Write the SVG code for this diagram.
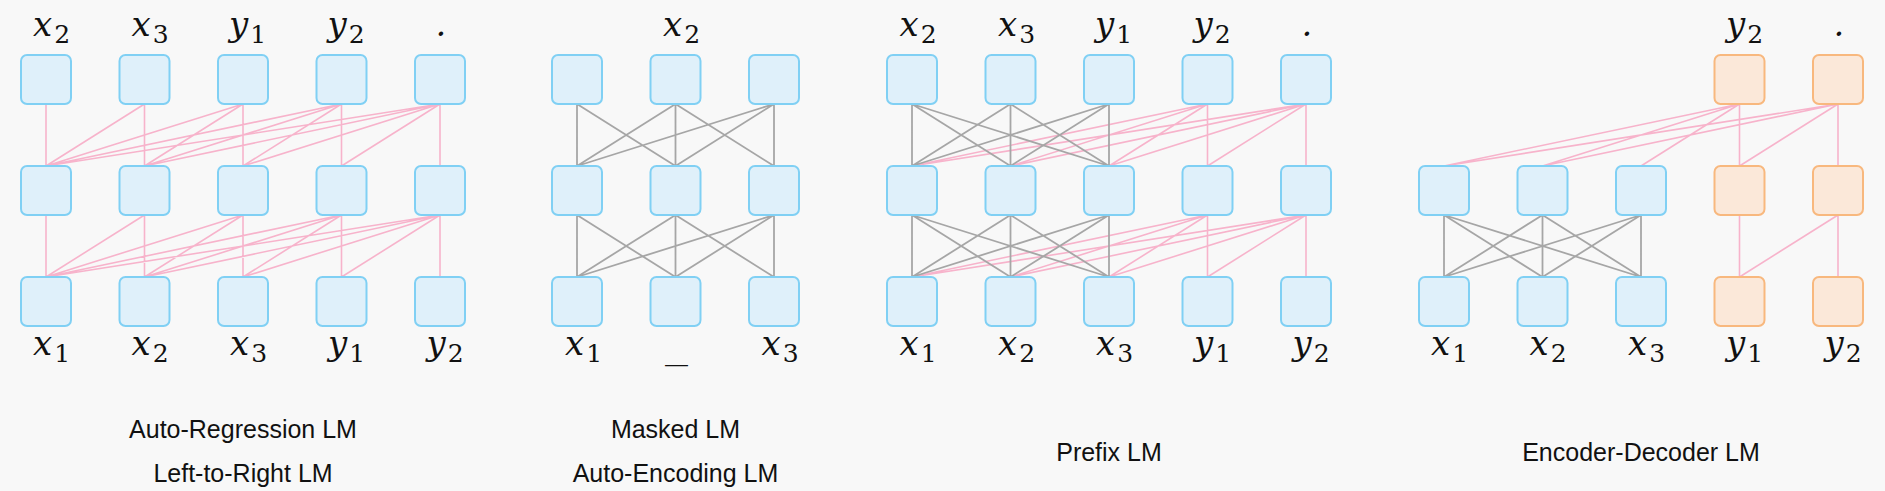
<svg xmlns="http://www.w3.org/2000/svg" width="1885" height="491" viewBox="0 0 1885 491">
<style>
.bg{fill:#f8f8f8}
.b{fill:#dff0fa;stroke:#80d0f4;stroke-width:2}
.o{fill:#fbe8d9;stroke:#f8b87e;stroke-width:2}
.pk{fill:none;stroke:#f7b3cb;stroke-width:1.6}
.gr{fill:none;stroke:#a6a6a6;stroke-width:1.8}
.m{font-family:'DejaVu Serif','Liberation Serif',serif;font-style:italic;font-size:34px;fill:#111}
.s{font-style:normal;font-size:25px}
.cap{font-family:'Liberation Sans',Arial,sans-serif;font-size:25px;fill:#111;text-anchor:middle}
</style>
<rect class="bg" x="0" y="0" width="1885" height="491"/>

<g id="connectors">
  <g id="c-arlm">
    <path class="pk" d="M46 104V166 M144.5 104L46 166 M144.5 104V166 M243 104L46 166 M243 104L144.5 166 M243 104V166 M341.5 104L46 166 M341.5 104L144.5 166 M341.5 104L243 166 M341.5 104V166 M440 104L46 166 M440 104L144.5 166 M440 104L243 166 M440 104L341.5 166 M440 104V166"/>
    <path class="pk" d="M46 215V277 M144.5 215L46 277 M144.5 215V277 M243 215L46 277 M243 215L144.5 277 M243 215V277 M341.5 215L46 277 M341.5 215L144.5 277 M341.5 215L243 277 M341.5 215V277 M440 215L46 277 M440 215L144.5 277 M440 215L243 277 M440 215L341.5 277 M440 215V277"/>
  </g>
  <g id="c-mlm">
    <path class="gr" d="M577 104V166 M577 104L675.5 166 M675.5 104L577 166 M675.5 104V166 M675.5 104L774 166 M774 104L577 166 M774 104L675.5 166 M774 104V166"/>
    <path class="gr" d="M577 215V277 M577 215L675.5 277 M675.5 215L577 277 M675.5 215V277 M675.5 215L774 277 M774 215L577 277 M774 215L675.5 277 M774 215V277"/>
  </g>
  <g id="c-prefix">
    <path class="pk" d="M1207.5 104L912 166 M1207.5 104L1010.5 166 M1207.5 104L1109 166 M1207.5 104V166 M1306 104L912 166 M1306 104L1010.5 166 M1306 104L1109 166 M1306 104L1207.5 166 M1306 104V166"/>
    <path class="pk" d="M1207.5 215L912 277 M1207.5 215L1010.5 277 M1207.5 215L1109 277 M1207.5 215V277 M1306 215L912 277 M1306 215L1010.5 277 M1306 215L1109 277 M1306 215L1207.5 277 M1306 215V277"/>
    <path class="gr" d="M912 104V166 M912 104L1010.5 166 M912 104L1109 166 M1010.5 104L912 166 M1010.5 104V166 M1010.5 104L1109 166 M1109 104L912 166 M1109 104L1010.5 166 M1109 104V166"/>
    <path class="gr" d="M912 215V277 M912 215L1010.5 277 M912 215L1109 277 M1010.5 215L912 277 M1010.5 215V277 M1010.5 215L1109 277 M1109 215L912 277 M1109 215L1010.5 277 M1109 215V277"/>
  </g>
  <g id="c-encdec">
    <path class="pk" d="M1739.5 104L1444 166 M1739.5 104L1542.5 166 M1739.5 104L1641 166 M1739.5 104V166 M1838 104L1444 166 M1838 104L1542.5 166 M1838 104L1739.5 166 M1838 104V166"/>
    <path class="gr" d="M1444 215V277 M1444 215L1542.5 277 M1444 215L1641 277 M1542.5 215L1444 277 M1542.5 215V277 M1542.5 215L1641 277 M1641 215L1444 277 M1641 215L1542.5 277 M1641 215V277"/>
    <path class="pk" d="M1739.5 215V277 M1838 215L1739.5 277 M1838 215V277"/>
  </g>
</g>

<g id="arlm">
  <g id="ar-t1"><rect class="b" x="21" y="55" width="50" height="49" rx="6"/></g>
  <g id="ar-t2"><rect class="b" x="119.5" y="55" width="50" height="49" rx="6"/></g>
  <g id="ar-t3"><rect class="b" x="218" y="55" width="50" height="49" rx="6"/></g>
  <g id="ar-t4"><rect class="b" x="316.5" y="55" width="50" height="49" rx="6"/></g>
  <g id="ar-t5"><rect class="b" x="415" y="55" width="50" height="49" rx="6"/></g>
  <g id="ar-m1"><rect class="b" x="21" y="166" width="50" height="49" rx="6"/></g>
  <g id="ar-m2"><rect class="b" x="119.5" y="166" width="50" height="49" rx="6"/></g>
  <g id="ar-m3"><rect class="b" x="218" y="166" width="50" height="49" rx="6"/></g>
  <g id="ar-m4"><rect class="b" x="316.5" y="166" width="50" height="49" rx="6"/></g>
  <g id="ar-m5"><rect class="b" x="415" y="166" width="50" height="49" rx="6"/></g>
  <g id="ar-b1"><rect class="b" x="21" y="277" width="50" height="49" rx="6"/></g>
  <g id="ar-b2"><rect class="b" x="119.5" y="277" width="50" height="49" rx="6"/></g>
  <g id="ar-b3"><rect class="b" x="218" y="277" width="50" height="49" rx="6"/></g>
  <g id="ar-b4"><rect class="b" x="316.5" y="277" width="50" height="49" rx="6"/></g>
  <g id="ar-b5"><rect class="b" x="415" y="277" width="50" height="49" rx="6"/></g>
  <text class="m" x="33" y="36">x<tspan class="s" dx="2" dy="6.5">2</tspan></text>
  <text class="m" x="131.5" y="36">x<tspan class="s" dx="2" dy="6.5">3</tspan></text>
  <text class="m" x="229" y="36">y<tspan class="s" dx="2" dy="6.5">1</tspan></text>
  <text class="m" x="327.5" y="36">y<tspan class="s" dx="2" dy="6.5">2</tspan></text>
  <text class="m" x="441" y="36" text-anchor="middle">.</text>
  <text class="m" x="33" y="354.5">x<tspan class="s" dx="2" dy="7.5">1</tspan></text>
  <text class="m" x="131.5" y="354.5">x<tspan class="s" dx="2" dy="7.5">2</tspan></text>
  <text class="m" x="230" y="354.5">x<tspan class="s" dx="2" dy="7.5">3</tspan></text>
  <text class="m" x="328" y="354.5">y<tspan class="s" dx="2" dy="7.5">1</tspan></text>
  <text class="m" x="426.5" y="354.5">y<tspan class="s" dx="2" dy="7.5">2</tspan></text>
  <text class="cap" x="243" y="438">Auto-Regression LM</text>
  <text class="cap" x="243" y="482">Left-to-Right LM</text>
</g>

<g id="mlm">
  <g id="ml-t1"><rect class="b" x="552" y="55" width="50" height="49" rx="6"/></g>
  <g id="ml-t2"><rect class="b" x="650.5" y="55" width="50" height="49" rx="6"/></g>
  <g id="ml-t3"><rect class="b" x="749" y="55" width="50" height="49" rx="6"/></g>
  <g id="ml-m1"><rect class="b" x="552" y="166" width="50" height="49" rx="6"/></g>
  <g id="ml-m2"><rect class="b" x="650.5" y="166" width="50" height="49" rx="6"/></g>
  <g id="ml-m3"><rect class="b" x="749" y="166" width="50" height="49" rx="6"/></g>
  <g id="ml-b1"><rect class="b" x="552" y="277" width="50" height="49" rx="6"/></g>
  <g id="ml-b2"><rect class="b" x="650.5" y="277" width="50" height="49" rx="6"/></g>
  <g id="ml-b3"><rect class="b" x="749" y="277" width="50" height="49" rx="6"/></g>
  <text class="m" x="663" y="36">x<tspan class="s" dx="2" dy="6.5">2</tspan></text>
  <text class="m" x="565" y="354.5">x<tspan class="s" dx="2" dy="7.5">1</tspan></text>
  <text class="m" x="665" y="358" textLength="23" lengthAdjust="spacingAndGlyphs">_</text>
  <text class="m" x="761.5" y="354.5">x<tspan class="s" dx="2" dy="7.5">3</tspan></text>
  <text class="cap" x="675.5" y="438">Masked LM</text>
  <text class="cap" x="675.5" y="482">Auto-Encoding LM</text>
</g>

<g id="prefixlm">
  <g id="pf-t1"><rect class="b" x="887" y="55" width="50" height="49" rx="6"/></g>
  <g id="pf-t2"><rect class="b" x="985.5" y="55" width="50" height="49" rx="6"/></g>
  <g id="pf-t3"><rect class="b" x="1084" y="55" width="50" height="49" rx="6"/></g>
  <g id="pf-t4"><rect class="b" x="1182.5" y="55" width="50" height="49" rx="6"/></g>
  <g id="pf-t5"><rect class="b" x="1281" y="55" width="50" height="49" rx="6"/></g>
  <g id="pf-m1"><rect class="b" x="887" y="166" width="50" height="49" rx="6"/></g>
  <g id="pf-m2"><rect class="b" x="985.5" y="166" width="50" height="49" rx="6"/></g>
  <g id="pf-m3"><rect class="b" x="1084" y="166" width="50" height="49" rx="6"/></g>
  <g id="pf-m4"><rect class="b" x="1182.5" y="166" width="50" height="49" rx="6"/></g>
  <g id="pf-m5"><rect class="b" x="1281" y="166" width="50" height="49" rx="6"/></g>
  <g id="pf-b1"><rect class="b" x="887" y="277" width="50" height="49" rx="6"/></g>
  <g id="pf-b2"><rect class="b" x="985.5" y="277" width="50" height="49" rx="6"/></g>
  <g id="pf-b3"><rect class="b" x="1084" y="277" width="50" height="49" rx="6"/></g>
  <g id="pf-b4"><rect class="b" x="1182.5" y="277" width="50" height="49" rx="6"/></g>
  <g id="pf-b5"><rect class="b" x="1281" y="277" width="50" height="49" rx="6"/></g>
  <text class="m" x="899.5" y="36">x<tspan class="s" dx="2" dy="6.5">2</tspan></text>
  <text class="m" x="998" y="36">x<tspan class="s" dx="2" dy="6.5">3</tspan></text>
  <text class="m" x="1095" y="36">y<tspan class="s" dx="2" dy="6.5">1</tspan></text>
  <text class="m" x="1193.5" y="36">y<tspan class="s" dx="2" dy="6.5">2</tspan></text>
  <text class="m" x="1307" y="36" text-anchor="middle">.</text>
  <text class="m" x="899.5" y="354.5">x<tspan class="s" dx="2" dy="7.5">1</tspan></text>
  <text class="m" x="998" y="354.5">x<tspan class="s" dx="2" dy="7.5">2</tspan></text>
  <text class="m" x="1096" y="354.5">x<tspan class="s" dx="2" dy="7.5">3</tspan></text>
  <text class="m" x="1194" y="354.5">y<tspan class="s" dx="2" dy="7.5">1</tspan></text>
  <text class="m" x="1292.5" y="354.5">y<tspan class="s" dx="2" dy="7.5">2</tspan></text>
  <text class="cap" x="1109" y="461">Prefix LM</text>
</g>

<g id="encdeclm">
  <g id="ed-t4"><rect class="o" x="1714.5" y="55" width="50" height="49" rx="6"/></g>
  <g id="ed-t5"><rect class="o" x="1813" y="55" width="50" height="49" rx="6"/></g>
  <g id="ed-m1"><rect class="b" x="1419" y="166" width="50" height="49" rx="6"/></g>
  <g id="ed-m2"><rect class="b" x="1517.5" y="166" width="50" height="49" rx="6"/></g>
  <g id="ed-m3"><rect class="b" x="1616" y="166" width="50" height="49" rx="6"/></g>
  <g id="ed-m4"><rect class="o" x="1714.5" y="166" width="50" height="49" rx="6"/></g>
  <g id="ed-m5"><rect class="o" x="1813" y="166" width="50" height="49" rx="6"/></g>
  <g id="ed-b1"><rect class="b" x="1419" y="277" width="50" height="49" rx="6"/></g>
  <g id="ed-b2"><rect class="b" x="1517.5" y="277" width="50" height="49" rx="6"/></g>
  <g id="ed-b3"><rect class="b" x="1616" y="277" width="50" height="49" rx="6"/></g>
  <g id="ed-b4"><rect class="o" x="1714.5" y="277" width="50" height="49" rx="6"/></g>
  <g id="ed-b5"><rect class="o" x="1813" y="277" width="50" height="49" rx="6"/></g>
  <text class="m" x="1726" y="36">y<tspan class="s" dx="2" dy="6.5">2</tspan></text>
  <text class="m" x="1839" y="36" text-anchor="middle">.</text>
  <text class="m" x="1431" y="354.5">x<tspan class="s" dx="2" dy="7.5">1</tspan></text>
  <text class="m" x="1529.5" y="354.5">x<tspan class="s" dx="2" dy="7.5">2</tspan></text>
  <text class="m" x="1628" y="354.5">x<tspan class="s" dx="2" dy="7.5">3</tspan></text>
  <text class="m" x="1726" y="354.5">y<tspan class="s" dx="2" dy="7.5">1</tspan></text>
  <text class="m" x="1824.5" y="354.5">y<tspan class="s" dx="2" dy="7.5">2</tspan></text>
  <text class="cap" x="1641" y="461">Encoder-Decoder LM</text>
</g>
</svg>
